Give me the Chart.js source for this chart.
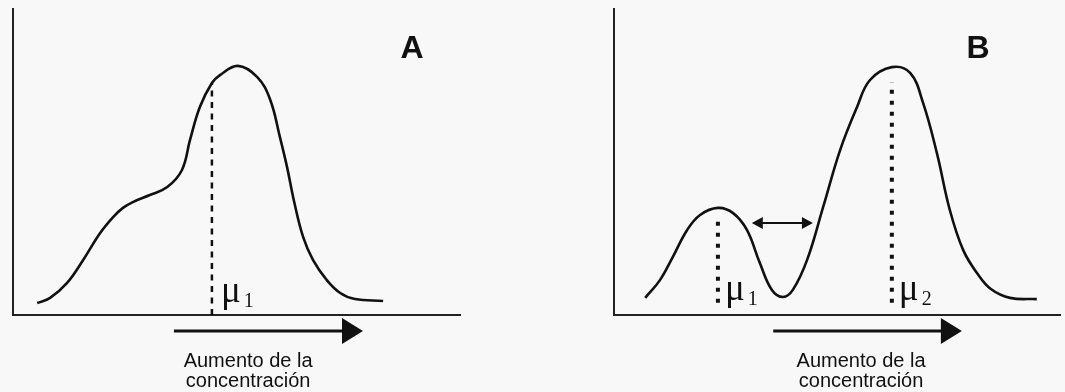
<!DOCTYPE html>
<html>
<head>
<meta charset="utf-8">
<script src="https://cdn.jsdelivr.net/npm/chart.js@4.4.1/dist/chart.umd.min.js"></script>
<style>
  html, body { margin: 0; padding: 0; background: #f8f8f8; }
  #wrap { position: relative; width: 1065px; height: 392px; overflow: hidden; }
  canvas { position: absolute; top: 0; }
  #chartA { left: 0; }
  #chartB { left: 540px; }
</style>
</head>
<body>
<div id="wrap">
  <canvas id="chartA" width="530" height="392"></canvas>
  <canvas id="chartB" width="525" height="392"></canvas>
</div>
<script>
// Curve A: one broad peak with a shoulder on the left
const curveAX = [5.4, 8.3, 12.1, 15.7, 19.5, 22.4, 24.6, 26.8, 30.6, 34.5, 37.8, 39.6, 41.8, 44.5, 46.3, 50.3, 54.6, 57.5, 59.7, 61.3, 62.9, 64.9, 67.1, 70.2, 73.2, 76.5, 82.8];
const curveAY = [3.9, 5.6, 10.5, 18.0, 26.8, 32.0, 35.0, 36.9, 39.2, 41.8, 47.4, 57.2, 68.0, 75.8, 78.4, 81.4, 77.8, 70.5, 58.2, 48.4, 37.0, 25.5, 18.0, 11.4, 7.2, 5.2, 4.6];

// Curve B: two separated peaks
const curveBX = [7.0, 10.3, 13.2, 16.4, 19.3, 23.3, 26.7, 29.8, 32.7, 35.4, 37.9, 40.1, 43.3, 46.9, 50.7, 54.5, 57.4, 62.3, 66.4, 69.3, 72.4, 75.3, 78.3, 81.5, 84.5, 88.8, 94.8];
const curveBY = [5.6, 11.4, 19.0, 27.8, 32.7, 35.0, 33.3, 27.8, 17.0, 8.2, 5.9, 8.2, 18.0, 35.3, 53.9, 68.0, 76.8, 81.0, 79.1, 69.3, 52.9, 34.3, 21.2, 13.5, 8.5, 5.6, 5.2];

// mean markers
const muAX = [44.5];
const muABottom = [0];
const muATop = [75.8];
const muBX = [23.3, 62.3];
const muBBottom = [4, 4];
const muBTop = [31, 76];
const muSubs = ['1', '2'];

// separation arrow between the two peaks in B
const sepB = [30.9, 44.6];
const sepBY = 30.1;

// "increasing concentration" arrow under each x axis
const concArrowA = [36.0, 78.3];
const concArrowB = [35.7, 78.0];
const captionXA = 52.6;
const captionXB = 55.4;
const captionLines = ['Aumento de la', 'concentración'];
const panelLabels = ['A', 'B'];
const panelLabelX = [89.3, 81.6];

const INK = '#111';

function toPoints(xs, ys) {
  return xs.map((x, i) => ({ x: x, y: ys[i] }));
}

function drawArrow(ctx, x0, x1, y, shaft, headLen, headHalf, both) {
  ctx.save();
  ctx.fillStyle = INK;
  ctx.strokeStyle = INK;
  ctx.lineWidth = shaft;
  ctx.beginPath();
  ctx.moveTo(both ? x0 + headLen - 1 : x0, y);
  ctx.lineTo(x1 - headLen + 1, y);
  ctx.stroke();
  ctx.beginPath();
  ctx.moveTo(x1, y);
  ctx.lineTo(x1 - headLen, y - headHalf);
  ctx.lineTo(x1 - headLen, y + headHalf);
  ctx.closePath();
  ctx.fill();
  if (both) {
    ctx.beginPath();
    ctx.moveTo(x0, y);
    ctx.lineTo(x0 + headLen, y - headHalf);
    ctx.lineTo(x0 + headLen, y + headHalf);
    ctx.closePath();
    ctx.fill();
  }
  ctx.restore();
}

// draws the letters, mu labels, arrows and caption
const decorPlugin = {
  id: 'decor',
  afterDatasetsDraw(chart, args, opts) {
    const { ctx, chartArea } = chart;
    const xs = chart.scales.x;
    const ys = chart.scales.y;
    ctx.save();
    ctx.fillStyle = INK;

    // panel letter
    ctx.font = 'bold 32px "Liberation Sans", Arial, sans-serif';
    ctx.textAlign = 'center';
    ctx.textBaseline = 'alphabetic';
    ctx.fillText(opts.label, xs.getPixelForValue(opts.labelX), 58);

    // mu labels
    opts.mus.forEach((m, i) => {
      const px = xs.getPixelForValue(m) + opts.muGap;
      const base = chartArea.bottom - opts.muLift;
      ctx.textAlign = 'left';
      ctx.font = '37px "Liberation Serif", "DejaVu Serif", serif';
      ctx.fillText('\u03BC', px, base);
      const w = ctx.measureText('\u03BC').width;
      ctx.font = '20px "Liberation Serif", "DejaVu Serif", serif';
      ctx.fillText(muSubs[i], px + w + 3, base + 5);
    });

    // concentration arrow
    const ay = chartArea.bottom + 16;
    drawArrow(ctx, xs.getPixelForValue(opts.arrow[0]), xs.getPixelForValue(opts.arrow[1]), ay, 3, 21, 13, false);

    // caption
    ctx.font = '20px "Liberation Sans", Arial, sans-serif';
    ctx.textAlign = 'center';
    const cx = xs.getPixelForValue(opts.captionX);
    ctx.fillText(captionLines[0], cx, chartArea.bottom + 52);
    ctx.fillText(captionLines[1], cx, chartArea.bottom + 72);

    // separation arrow
    if (opts.sep) {
      drawArrow(ctx, xs.getPixelForValue(opts.sep[0]), xs.getPixelForValue(opts.sep[1]), ys.getPixelForValue(opts.sepY), 2, 11, 6, true);
    }
    ctx.restore();
  }
};

function makeChart(id, curve, muX, muBottom, muTop, dash, dashWidth, padding, decor) {
  const datasets = [{
    data: curve,
    borderColor: INK,
    borderWidth: 2.6,
    pointRadius: 0,
    tension: 0.4,
    fill: false
  }];
  muX.forEach((m, i) => {
    datasets.push({
      data: [{ x: m, y: muBottom[i] }, { x: m, y: muTop[i] }],
      borderColor: INK,
      borderWidth: dashWidth,
      borderDash: dash,
      borderCapStyle: 'butt',
      pointRadius: 0,
      tension: 0,
      fill: false
    });
  });

  return new Chart(document.getElementById(id).getContext('2d'), {
    type: 'line',
    data: { datasets: datasets },
    options: {
      responsive: false,
      animation: false,
      layout: { padding: padding },
      plugins: {
        legend: { display: false },
        tooltip: { enabled: false },
        decor: decor
      },
      scales: {
        x: {
          type: 'linear',
          min: 0,
          max: 100,
          grid: { display: false, drawTicks: false },
          ticks: { display: false },
          border: { display: true, color: '#222', width: 2 }
        },
        y: {
          min: 0,
          max: 100,
          grid: { display: false, drawTicks: false },
          ticks: { display: false },
          border: { display: true, color: '#222', width: 2 }
        }
      }
    },
    plugins: [decorPlugin]
  });
}

makeChart('chartA', toPoints(curveAX, curveAY), muAX, muABottom, muATop, [6, 5.5], 2.5,
  { left: 13, top: 9, right: 70, bottom: 77 },
  { label: panelLabels[0], labelX: panelLabelX[0], mus: muAX, muGap: 9, muLift: 13,
    arrow: concArrowA, captionX: captionXA });

makeChart('chartB', toPoints(curveBX, curveBY), muBX, muBBottom, muBTop, [4, 7], 4,
  { left: 74, top: 9, right: 5, bottom: 77 },
  { label: panelLabels[1], labelX: panelLabelX[1], mus: muBX, muGap: 7, muLift: 15,
    arrow: concArrowB, captionX: captionXB, sep: sepB, sepY: sepBY });
</script>
</body>
</html>
